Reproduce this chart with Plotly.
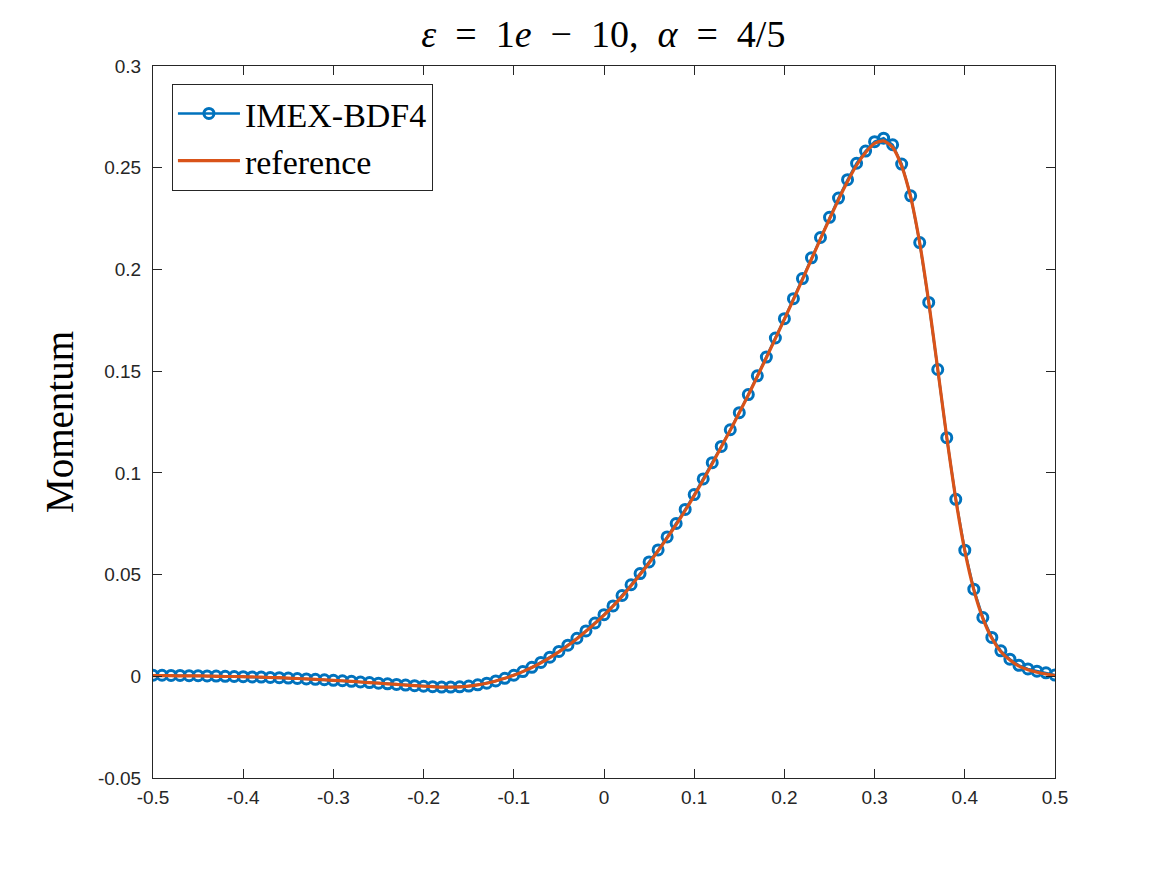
import numpy as np
import plotly.graph_objects as go

# grid: -0.5 .. 0.5, step 0.01
x_grid = np.round(np.linspace(-0.5, 0.5, 101), 2)

imex_bdf4 = [
    0.0005, 0.0005, 0.0004, 0.0004, 0.0003, 0.0003, 0.0002, 0.0001, 0.0000, -0.0001,
    -0.0002, -0.0003, -0.0004, -0.0006, -0.0007, -0.0009, -0.0011, -0.0013, -0.0015, -0.0017,
    -0.0020, -0.0022, -0.0025, -0.0028, -0.0031, -0.0034, -0.0037, -0.0040, -0.0043, -0.0046,
    -0.0049, -0.0051, -0.0053, -0.0053, -0.0052, -0.0048, -0.0042, -0.0034, -0.0023, -0.0010,
    0.0005, 0.0023, 0.0044, 0.0068, 0.0094, 0.0122, 0.0153, 0.0187, 0.0223, 0.0262,
    0.0303, 0.0346, 0.0397, 0.0450, 0.0505, 0.0562, 0.0621, 0.0685, 0.0751, 0.0820,
    0.0893, 0.0970, 0.1050, 0.1130, 0.1212, 0.1296, 0.1385, 0.1477, 0.1569, 0.1663,
    0.1758, 0.1856, 0.1955, 0.2057, 0.2157, 0.2256, 0.2351, 0.2441, 0.2522, 0.2582,
    0.2628, 0.2645, 0.2613, 0.2518, 0.2362, 0.2132, 0.1838, 0.1508, 0.1173, 0.0870,
    0.0620, 0.0428, 0.0289, 0.0191, 0.0125, 0.0084, 0.0054, 0.0036, 0.0025, 0.0017,
    0.0006,
]

reference = [
    0.0003, 0.0003, 0.0003, 0.0002, 0.0002, 0.0002, 0.0001, 0.0000, -0.0001, -0.0001,
    -0.0002, -0.0003, -0.0004, -0.0006, -0.0007, -0.0009, -0.0011, -0.0013, -0.0015, -0.0017,
    -0.0020, -0.0022, -0.0025, -0.0028, -0.0031, -0.0034, -0.0037, -0.0040, -0.0043, -0.0046,
    -0.0049, -0.0051, -0.0053, -0.0053, -0.0052, -0.0048, -0.0042, -0.0034, -0.0023, -0.0010,
    0.0005, 0.0023, 0.0043, 0.0066, 0.0092, 0.0120, 0.0151, 0.0185, 0.0221, 0.0260,
    0.0301, 0.0345, 0.0393, 0.0445, 0.0500, 0.0557, 0.0617, 0.0680, 0.0746, 0.0815,
    0.0888, 0.0965, 0.1045, 0.1127, 0.1210, 0.1295, 0.1383, 0.1474, 0.1566, 0.1660,
    0.1755, 0.1852, 0.1950, 0.2050, 0.2150, 0.2248, 0.2343, 0.2432, 0.2512, 0.2575,
    0.2620, 0.2632, 0.2600, 0.2508, 0.2355, 0.2130, 0.1840, 0.1510, 0.1175, 0.0870,
    0.0617, 0.0425, 0.0285, 0.0187, 0.0121, 0.0080, 0.0050, 0.0032, 0.0020, 0.0011,
    0.0003,
]

x_ticks = [-0.5, -0.4, -0.3, -0.2, -0.1, 0, 0.1, 0.2, 0.3, 0.4, 0.5]
x_ticklabels = ["-0.5", "-0.4", "-0.3", "-0.2", "-0.1", "0", "0.1", "0.2", "0.3", "0.4", "0.5"]
y_ticks = [-0.05, 0, 0.05, 0.1, 0.15, 0.2, 0.25, 0.3]
y_ticklabels = ["-0.05", "0", "0.05", "0.1", "0.15", "0.2", "0.25", "0.3"]

BLUE = "#0072BD"
ORANGE = "#D95319"
SERIF = "Liberation Serif, Times New Roman, serif"
SANS = "Liberation Sans, Arial, Helvetica, sans-serif"

fig = go.Figure()
fig.add_trace(go.Scatter(
    x=x_grid, y=imex_bdf4, name="IMEX-BDF4", mode="lines+markers",
    line=dict(color=BLUE, width=2.5),
    marker=dict(symbol="circle-open", size=10, color=BLUE, line=dict(width=3, color=BLUE)),
))
fig.add_trace(go.Scatter(
    x=x_grid, y=reference, name="reference", mode="lines",
    line=dict(color=ORANGE, width=3.2, shape="spline", smoothing=0.6),
))

axis_common = dict(
    showgrid=False, zeroline=False, showline=True, linecolor="#262626", linewidth=1,
    mirror="ticks", ticks="inside", ticklen=9, tickwidth=1, tickcolor="#262626",
    tickfont=dict(family=SANS, size=19, color="#262626"),
)

fig.update_layout(
    width=1167, height=875,
    paper_bgcolor="white", plot_bgcolor="white",
    margin=dict(l=153, r=112, t=66, b=97),
    title=dict(
        text="<i>ε</i>\u2002=\u20021<i>e</i>\u2002−\u200210,\u2002<i>α</i>\u2002=\u20024/5",
        x=0.517, xanchor="center", y=0.962, yanchor="middle",
        font=dict(family=SERIF, size=38, color="black"),
    ),
    xaxis=dict(range=[-0.5, 0.5], tickvals=x_ticks, ticktext=x_ticklabels,
               ticklabelstandoff=2, **axis_common),
    yaxis=dict(range=[-0.05, 0.3], tickvals=y_ticks, ticktext=y_ticklabels,
               ticklabelstandoff=7,
               title=dict(text="Momentum", font=dict(family=SERIF, size=39, color="black"), standoff=12),
               **axis_common),
    legend=dict(
        x=0.021, y=0.975, xanchor="left", yanchor="top",
        bgcolor="white", bordercolor="#262626", borderwidth=1,
        font=dict(family=SERIF, size=34, color="black"),
        itemwidth=62, tracegroupgap=0,
    ),
    showlegend=True,
)

fig.write_html("out.html")
